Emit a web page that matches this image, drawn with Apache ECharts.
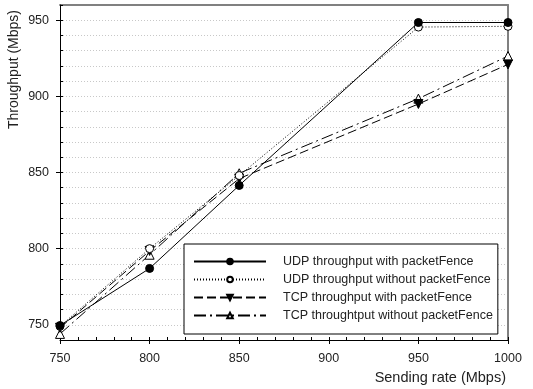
<!DOCTYPE html>
<html><head><meta charset="utf-8">
<script src="https://cdn.jsdelivr.net/npm/echarts@6/dist/echarts.min.js"></script>
<style>html,body{margin:0;padding:0;background:#fff}#c{width:533px;height:389px}</style>
</head><body><div id="c"></div>
<script>
const sendingRate = [750, 800, 850, 950, 1000];
const udpWith = [749.5, 787, 841.5, 948.5, 948.5];
const udpWithout = [749, 800, 848, 945.5, 946];
const tcpWith = [748, 798.5, 846, 895, 921];
const tcpWithout = [744, 796, 849.5, 898.5, 926.5];
const yTickLabels = [750, 800, 850, 900, 950];
const seriesNames = ['UDP throughput with packetFence', 'UDP throughput without packetFence', 'TCP throughput with packetFence', 'TCP throughtput without packetFence'];

const FONT = 'Liberation Sans, Arial, sans-serif';
const pair = v => sendingRate.map((x, i) => [x, v[i]]);

const chart = echarts.init(document.getElementById('c'));
chart.setOption({
  animation: false,
  backgroundColor: '#fff',
  textStyle: { fontFamily: FONT },
  grid: { left: 60, right: 25, top: 5, bottom: 49 },
  xAxis: [{
    type: 'value', min: 750, max: 1000, interval: 50, z: 3,
    axisLine: { show: true, lineStyle: { color: '#000', width: 1 } },
    axisTick: { show: true, inside: false, length: 4, lineStyle: { color: '#000', width: 1 } },
    axisLabel: { color: '#222', fontSize: 12.5, margin: 12, fontFamily: FONT, formatter: v => String(v) },
    splitLine: { show: false },
    name: 'Sending rate (Mbps)', nameLocation: 'end', nameGap: -2,
    nameTextStyle: { color: '#222', fontSize: 14.5, fontFamily: FONT, align: 'right', verticalAlign: 'top', padding: [30, 0, 0, 0] }
  }, {
    type: 'value', min: 750, max: 1000, interval: 10, position: 'bottom',
    axisLine: { show: false },
    axisTick: { show: true, inside: true, length: 3, lineStyle: { color: '#000', width: 1 } },
    axisLabel: { show: false }, splitLine: { show: false }
  }, {
    type: 'value', min: 750, max: 1000, position: 'top',
    axisLine: { show: true, lineStyle: { color: '#808080', width: 2 } },
    axisTick: { show: false }, axisLabel: { show: false }, splitLine: { show: false }
  }],
  yAxis: [{
    type: 'value', min: 740, max: 960, interval: 10, z: 3,
    axisLine: { show: true, lineStyle: { color: '#000', width: 1 } },
    axisTick: { show: true, length: 4, customValues: yTickLabels, lineStyle: { color: '#000', width: 1 } },
    axisLabel: { color: '#222', fontSize: 12.5, margin: 11, fontFamily: FONT, customValues: yTickLabels },
    splitLine: { show: false }
  }, {
    type: 'value', min: 740, max: 960, interval: 10, position: 'left',
    axisLine: { show: false },
    axisTick: { show: true, inside: true, length: 3, lineStyle: { color: '#000', width: 1 } },
    axisLabel: { show: false },
    splitLine: { show: true, lineStyle: { color: '#c8c8c8', type: [1, 2], width: 1 } }
  }, {
    type: 'value', min: 740, max: 960, position: 'right',
    axisLine: { show: true, lineStyle: { color: '#808080', width: 2 } },
    axisTick: { show: false }, axisLabel: { show: false }, splitLine: { show: false }
  }],
  graphic: [{
    type: 'text', left: 7, top: 10, rotation: Math.PI / 2,
    style: { text: 'Throughput (Mbps)', fontSize: 14, fontFamily: FONT, fill: '#222' }
  }],
  legend: {
    orient: 'vertical', left: 184, top: 244,
    backgroundColor: '#fff', borderColor: '#000', borderWidth: 1,
    padding: [11, 5, 12, 9], itemGap: 5, itemWidth: 72, itemHeight: 7,
    textStyle: { color: '#222', fontSize: 12.5, fontFamily: FONT, padding: [0, 0, 0, 12] },
    data: seriesNames
  },
  series: [{
    name: seriesNames[3], type: 'line', data: pair(tcpWithout),
    symbol: 'triangle', symbolSize: 9,
    lineStyle: { color: '#000', width: 1, type: [12, 4, 2, 4] },
    itemStyle: { color: '#fff', borderColor: '#000', borderWidth: 1 }
  }, {
    name: seriesNames[2], type: 'line', data: pair(tcpWith),
    symbol: 'triangle', symbolRotate: 180, symbolSize: 9,
    lineStyle: { color: '#000', width: 1, type: [9, 4] },
    itemStyle: { color: '#000', borderColor: '#000', borderWidth: 1 }
  }, {
    name: seriesNames[1], type: 'line', data: pair(udpWithout),
    symbol: 'circle', symbolSize: 8,
    lineStyle: { color: '#000', width: 1, type: [1, 2] },
    itemStyle: { color: '#fff', borderColor: '#000', borderWidth: 1 }
  }, {
    name: seriesNames[0], type: 'line', data: pair(udpWith),
    symbol: 'circle', symbolSize: 8,
    lineStyle: { color: '#000', width: 1, type: 'solid' },
    itemStyle: { color: '#000', borderColor: '#000', borderWidth: 1 }
  }]
});
</script></body></html>
